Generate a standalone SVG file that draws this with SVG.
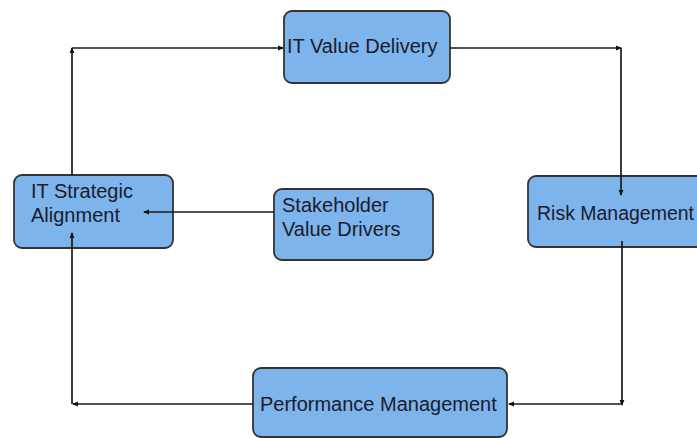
<svg xmlns="http://www.w3.org/2000/svg" width="697" height="438" viewBox="0 0 697 438">
  <style>
    .box { fill: #7db4eb; stroke: #333; stroke-width: 1.8; }
    .lbl { font-family: "Liberation Sans", Arial, sans-serif; font-size: 20px; fill: #1b1b2b; }
    .wire { fill: none; stroke: #1a1a1a; stroke-width: 1.7; marker-end: url(#tip); }
  </style>
  <defs>
    <marker id="tip" viewBox="0 0 6 6" refX="5" refY="3" markerWidth="6" markerHeight="6" markerUnits="userSpaceOnUse" orient="auto">
      <path d="M0,0.6 L6,3 L0,5.4 Z" fill="#111"/>
    </marker>
  </defs>

  <rect width="697" height="438" fill="#fff"/>

  <g id="it-value-delivery">
    <rect class="box" x="284" y="11" width="166" height="72" rx="8"/>
    <text class="lbl" x="287" y="53">IT Value Delivery</text>
  </g>

  <g id="it-strategic-alignment">
    <rect class="box" x="14" y="175" width="159" height="73" rx="8"/>
    <text class="lbl" x="31" y="198">IT Strategic</text>
    <text class="lbl" x="31" y="222">Alignment</text>
  </g>

  <g id="stakeholder-value-drivers">
    <rect class="box" x="274" y="189" width="159" height="71" rx="8"/>
    <text class="lbl" x="282" y="212">Stakeholder</text>
    <text class="lbl" x="282" y="236">Value Drivers</text>
  </g>

  <g id="risk-management">
    <rect class="box" x="528" y="176" width="200" height="71" rx="8"/>
    <text class="lbl" x="537" y="220" textLength="157" lengthAdjust="spacingAndGlyphs">Risk Management</text>
  </g>

  <g id="performance-management">
    <rect class="box" x="253" y="368" width="254" height="69" rx="8"/>
    <text class="lbl" x="260" y="411">Performance Management</text>
  </g>

  <g id="connectors">
    <!-- alignment -> value delivery -->
    <path class="wire" d="M72,175 V48"/>
    <path class="wire" d="M72,48 H283"/>
    <!-- value delivery -> risk -->
    <path class="wire" d="M450,48 H621"/>
    <path class="wire" d="M621,48 V195"/>
    <!-- risk -> performance -->
    <path class="wire" d="M622,241 V405"/>
    <path class="wire" d="M622,404 H509"/>
    <!-- performance -> alignment -->
    <path class="wire" d="M253,404 H73"/>
    <path class="wire" d="M72,404 V233"/>
    <!-- stakeholder drivers -> alignment -->
    <path class="wire" d="M274,212 H144"/>
  </g>
</svg>
